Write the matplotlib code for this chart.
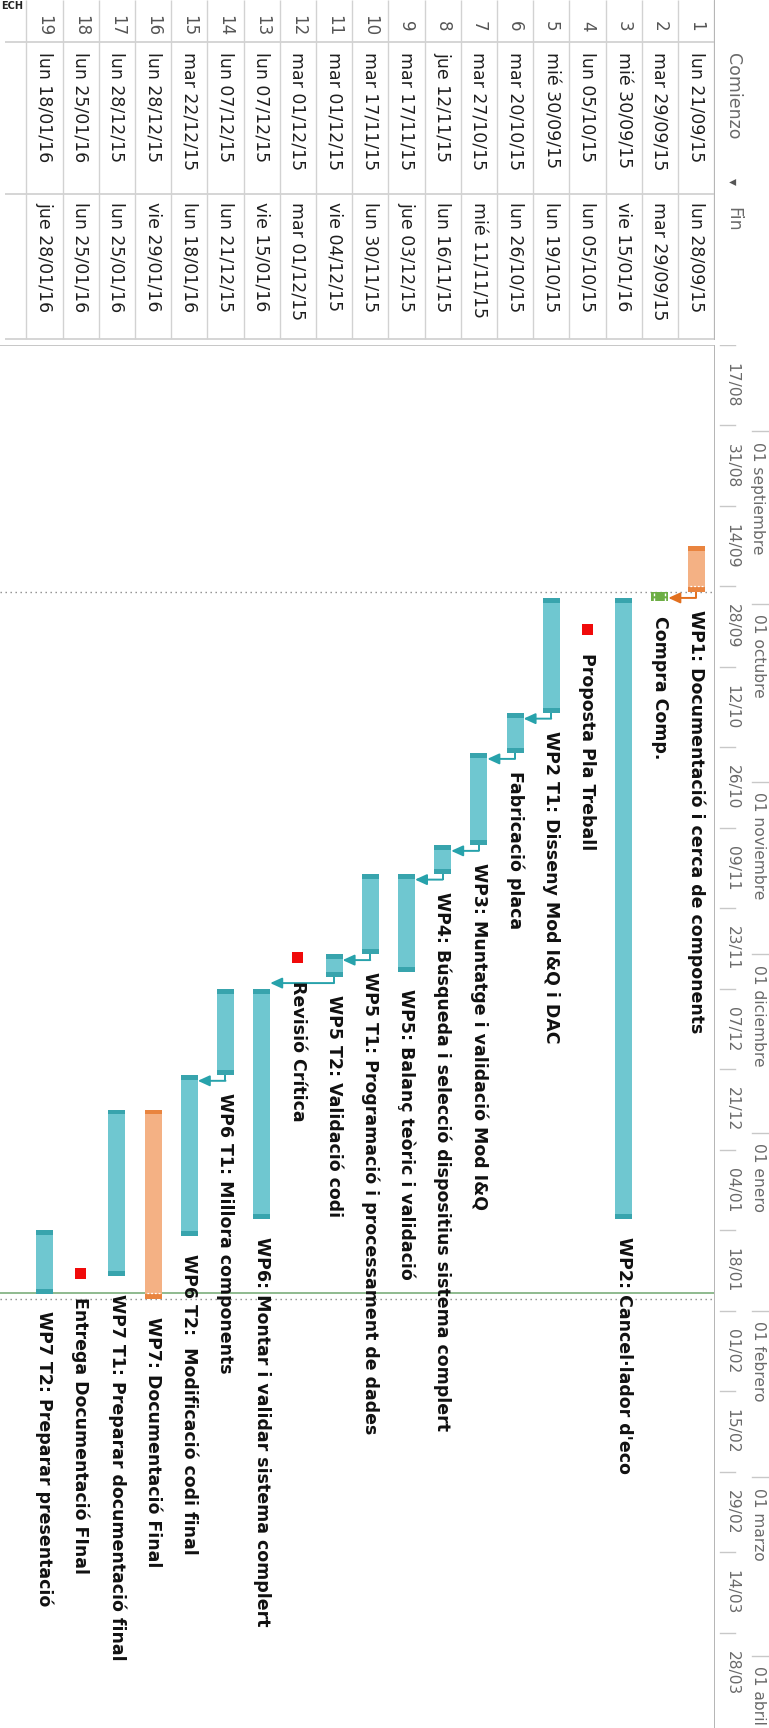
import datetime as dt

import matplotlib

matplotlib.use("Agg")
import matplotlib.dates as mdates
import matplotlib.pyplot as plt

plt.rcParams["font.family"] = ["DejaVu Sans"]

# ---- schedule -------------------------------------------------------------
task_ids = list(range(1, 20))
task_names = [
    "WP1: Documentació i cerca de components",
    "Compra Comp.",
    "WP2: Cancel·lador d'eco",
    "Proposta Pla Treball",
    "WP2 T1: Disseny Mod I&Q i DAC",
    "Fabricació placa",
    "WP3: Muntatge i validació Mod I&Q",
    "WP4: Búsqueda i selecció dispositius sistema complert",
    "WP5: Balanç teòric i validació",
    "WP5 T1: Programació i processament de dades",
    "WP5 T2: Validació codi",
    "Revisió Crítica",
    "WP6: Montar i validar sistema complert",
    "WP6 T1: Millora components",
    "WP6 T2:  Modificació codi final",
    "WP7: Documentació Final",
    "WP7 T1: Preparar documentació final",
    "Entrega Documentació FInal",
    "WP7 T2: Preparar presentació",
]
task_starts = [
    "2015-09-21", "2015-09-29", "2015-09-30", "2015-10-05", "2015-09-30",
    "2015-10-20", "2015-10-27", "2015-11-12", "2015-11-17", "2015-11-17",
    "2015-12-01", "2015-12-01", "2015-12-07", "2015-12-07", "2015-12-22",
    "2015-12-28", "2015-12-28", "2016-01-25", "2016-01-18",
]
task_ends = [
    "2015-09-28", "2015-09-29", "2016-01-15", "2015-10-05", "2015-10-19",
    "2015-10-26", "2015-11-11", "2015-11-16", "2015-12-03", "2015-11-30",
    "2015-12-04", "2015-12-01", "2016-01-15", "2015-12-21", "2016-01-18",
    "2016-01-29", "2016-01-25", "2016-01-25", "2016-01-28",
]
task_kinds = [
    "summary", "purchase", "task", "milestone", "task",
    "task", "task", "task", "task", "task",
    "task", "milestone", "task", "task", "task",
    "summary", "task", "milestone", "task",
]
links = [(1, 2), (5, 6), (6, 7), (7, 8), (8, 9), (10, 11), (11, 13), (14, 15)]

# timescale
week_starts = [
    "2015-08-17", "2015-08-31", "2015-09-14", "2015-09-28", "2015-10-12",
    "2015-10-26", "2015-11-09", "2015-11-23", "2015-12-07", "2015-12-21",
    "2016-01-04", "2016-01-18", "2016-02-01", "2016-02-15", "2016-02-29",
    "2016-03-14", "2016-03-28",
]
month_starts = [
    "2015-09-01", "2015-10-01", "2015-11-01", "2015-12-01",
    "2016-01-01", "2016-02-01", "2016-03-01", "2016-04-01",
]
month_names = ["septiembre", "octubre", "noviembre", "diciembre",
               "enero", "febrero", "marzo", "abril"]
day_abbr = ["lun", "mar", "mié", "jue", "vie", "sáb", "dom"]

project_lines = ["2015-09-29", "2016-01-30"]
current_date = dt.datetime(2016, 1, 28, 21, 30)
view_start = dt.datetime(2015, 8, 17)
view_end = dt.datetime(2016, 4, 13, 14, 0)

# ---- styling --------------------------------------------------------------
FILL = {"summary": "#F4B184", "task": "#6FC7D0", "purchase": "#6DAE45"}
CAP = {"summary": "#E9843F", "task": "#38A4AD", "purchase": "#5C9A38"}
LINK = {"summary": "#E2701F", "task": "#27A2AB", "purchase": "#27A2AB"}
MILESTONE = "#F00A0A"
BAR_W = 0.47
CAP_DAYS = 0.85
GAP_DAYS = 3.1
DROP_DAYS = 1.0
GRID = "#D2D2D2"

W, H = 769, 1728


def box(x0, y0, x1, y1):
    """pixel box (top-left origin) -> figure fraction rect"""
    return [x0 / W, 1 - y1 / H, (x1 - x0) / W, (y1 - y0) / H]


def num(s):
    return mdates.date2num(dt.datetime.fromisoformat(s))


def fmt_day(s):
    d = dt.date.fromisoformat(s)
    return f"{day_abbr[d.weekday()]} {d:%d/%m/%y}"


fig = plt.figure(figsize=(W / 100, H / 100), dpi=100)
ax = fig.add_axes(box(0, 345, 714, 1728))
ax_ts = fig.add_axes(box(714, 345, 769, 1728), sharey=ax)
ax_tb = fig.add_axes(box(0, 0, 714, 340))
ax_hd = fig.add_axes(box(714, 0, 769, 340))

row_lim = (20.23, 0.503)
for a in (ax, ax_tb):
    a.set_xlim(*row_lim)
ax.set_ylim(mdates.date2num(view_end), mdates.date2num(view_start))
for a in (ax_ts, ax_hd):
    a.set_xlim(0, 1)
for a in (ax_tb, ax_hd):
    a.set_ylim(340, 0)
for a in (ax, ax_ts, ax_tb, ax_hd):
    a.set_xticks([])
    a.set_yticks([])
    for sp in a.spines.values():
        sp.set_visible(False)

# ---- gantt bars -----------------------------------------------------------
bar_end = {}
for row, name, s, e, kind in zip(task_ids, task_names, task_starts, task_ends, task_kinds):
    t0, t1 = num(s), num(e) + 1
    if kind == "milestone":
        mid = num(s) + 0.55
        ax.bar(row, 1.9, bottom=mid - 0.95, width=0.30, color=MILESTONE, zorder=3)
        label_at = mid + 0.95 + GAP_DAYS
    else:
        ax.bar(row, t1 - t0, bottom=t0, width=BAR_W, color=FILL[kind], zorder=3)
        if kind == "purchase":
            ax.plot([row - 0.15, row - 0.15], [t0 + 0.15, t1 + 0.6], color="white",
                    lw=1.0, ls=(0, (2, 1.5)), zorder=4)
            ax.plot([row + 0.15, row + 0.15], [t0 + 0.15, t1 + 0.6], color="white",
                    lw=1.0, ls=(0, (2, 1.5)), zorder=4)
            ax.bar(row, 0.6, bottom=t1, width=BAR_W, color=FILL[kind], zorder=3)
        else:
            ax.bar(row, CAP_DAYS, bottom=t0, width=BAR_W, color=CAP[kind], zorder=3)
            ax.bar(row, CAP_DAYS, bottom=t1 - CAP_DAYS, width=BAR_W, color=CAP[kind], zorder=3)
        if kind == "summary":
            ax.plot([row - 0.2, row + 0.2], [t1 - 1.1, t1 - 1.1], color="white",
                    lw=0.9, ls=(0, (1.5, 1.5)), zorder=4)
        label_at = t1 + GAP_DAYS
    bar_end[row] = (t1, kind)
    ax.text(row, label_at, name, rotation=270, ha="center", va="top",
            fontsize=12.5, fontweight="bold", color="#111111", zorder=5)

# finish-to-start links
for p, s in links:
    t_end, kind = bar_end[p]
    y = t_end + DROP_DAYS
    col = LINK[kind]
    ax.plot([p, p], [t_end, y], color=col, lw=1.4, zorder=4, solid_capstyle="butt")
    ax.annotate("", xy=(s - BAR_W / 2, y), xytext=(p, y),
                arrowprops=dict(arrowstyle="-|>,head_length=0.7,head_width=0.32",
                                color=col, lw=1.4, shrinkA=0, shrinkB=0), zorder=4)

for d in project_lines:
    ax.axhline(num(d), color="#8A8A8A", lw=1.0, ls=(0, (1, 2.6)), zorder=2)
ax.axhline(mdates.date2num(current_date), color="#86B486", lw=1.3, zorder=2)
ax.axhline(mdates.date2num(view_start), color="#BDBDBD", lw=1.2)

# ---- timescale ------------------------------------------------------------
ax_ts.axvline(0, color="#A8A8A8", lw=1.2)
for w in week_starts:
    d = num(w)
    ax_ts.plot([0.1, 0.38], [d, d], color="#C8C8C8", lw=1.0)
    ax_ts.text(0.33, d + 7, dt.date.fromisoformat(w).strftime("%d/%m"), rotation=270,
               ha="center", va="center", fontsize=11.2, color="#6A6A6A")
for m, mname in zip(month_starts, month_names):
    d = num(m)
    ax_ts.plot([0.69, 1.0], [d, d], color="#C8C8C8", lw=1.0)
    ax_ts.text(0.80, d + 1.8, f"01 {mname}", rotation=270, ha="center", va="top",
               fontsize=11.2, color="#6A6A6A")

# ---- task table -----------------------------------------------------------
ax_tb.vlines([r + 0.5 for r in range(0, 20)], 0, 339, color=GRID, lw=1.0)
ax_tb.hlines([42, 194, 339], 20.09, 0.503, color=GRID, lw=1.3)
for row, s, e in zip(task_ids, task_starts, task_ends):
    ax_tb.text(row, 26, str(row), rotation=270, ha="center", va="center",
               fontsize=12, color="#555555")
    ax_tb.text(row, 52, fmt_day(s), rotation=270, ha="center", va="top",
               fontsize=12.5, color="#1E1E1E")
    ax_tb.text(row, 202, fmt_day(e), rotation=270, ha="center", va="top",
               fontsize=12.5, color="#1E1E1E")

ax_hd.axvline(0, color="#A8A8A8", lw=1.2)
ax_hd.text(0.345, 53, "Comienzo", rotation=270, ha="center", va="top",
           fontsize=12.5, color="#6A6A6A")
ax_hd.text(0.345, 182, "▾", rotation=270, ha="center", va="center",
           fontsize=10, color="#555555")
ax_hd.text(0.345, 207, "Fin", rotation=270, ha="center", va="top",
           fontsize=12.5, color="#6A6A6A")

fig.text(1 / W, 1 - 1 / H, "ECH", ha="left", va="top", fontsize=7,
         fontweight="bold", color="#222222")

fig.savefig("out.png", dpi=100, facecolor="white")
